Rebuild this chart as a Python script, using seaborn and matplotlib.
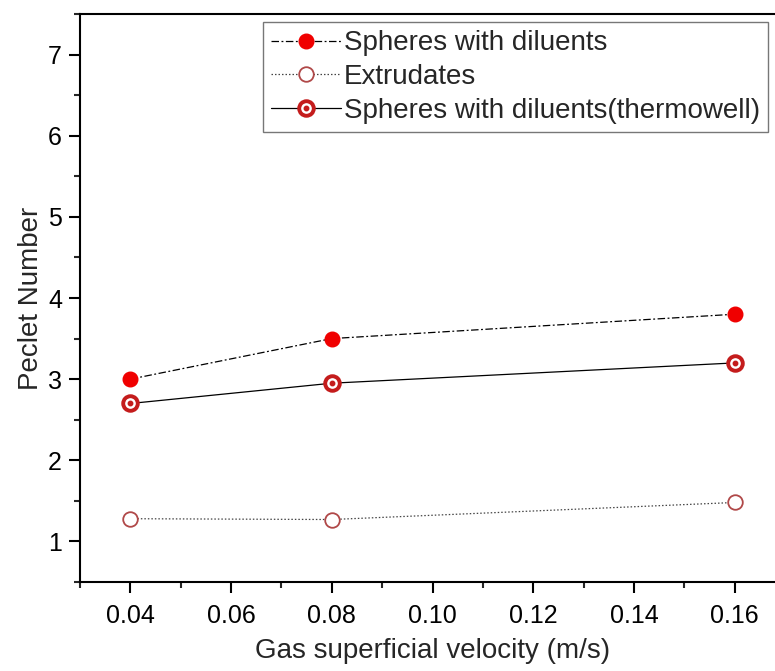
import matplotlib
matplotlib.use("Agg")
import matplotlib.pyplot as plt
import seaborn as sns
import pandas as pd
from matplotlib.ticker import MultipleLocator
from matplotlib.legend_handler import HandlerTuple
from matplotlib.lines import Line2D

velocity = [0.04, 0.08, 0.16]
spheres = [3.0, 3.5, 3.8]
extrudates = [1.28, 1.27, 1.48]
thermowell = [2.7, 2.95, 3.2]
labels = ["Spheres with diluents", "Extrudates", "Spheres with diluents(thermowell)"]
xtick_vals = [0.04, 0.06, 0.08, 0.10, 0.12, 0.14, 0.16]
xtick_labels = ["0.04", "0.06", "0.08", "0.10", "0.12", "0.14", "0.16"]
ytick_vals = [1, 2, 3, 4, 5, 6, 7]

sns.set_style("ticks")
plt.rcParams['font.family'] = ['Liberation Sans', 'DejaVu Sans']

fig = plt.figure(figsize=(7.75, 6.71), dpi=100)
ax = fig.add_axes([80/775, 89/671, 705/775, 568/671])

df_s = pd.DataFrame({"x": velocity, "y": spheres})
df_e = pd.DataFrame({"x": velocity, "y": extrudates})
df_t = pd.DataFrame({"x": velocity, "y": thermowell})

red = "#f00000"
dark = "#c41c1c"
MS = 10.5
DASHDOT = [6, 2, 1.5, 2]
DOT = [1.2, 1.6]

sns.lineplot(data=df_s, x="x", y="y", ax=ax, color="black", lw=0.9, zorder=2)
ax.lines[-1].set_dashes(DASHDOT)
ax.plot(velocity, spheres, ls="none", marker="o", ms=MS, mfc=red, mec=red, zorder=3)

sns.lineplot(data=df_e, x="x", y="y", ax=ax, color="#444444", lw=0.9, zorder=2)
ax.lines[-1].set_dashes(DOT)
ax.plot(velocity, extrudates, ls="none", marker="o", ms=MS, mfc="white", mec="#b04848", mew=1.3, zorder=3)

sns.lineplot(data=df_t, x="x", y="y", ax=ax, color="black", lw=0.9, zorder=2)
ax.plot(velocity, thermowell, ls="none", marker="o", ms=MS, mfc="white", mec=dark, mew=2.8, zorder=3)
ax.plot(velocity, thermowell, ls="none", marker="o", ms=3.2, mfc=dark, mec=dark, zorder=4)

ax.set_xlim(0.03, 0.17)
ax.set_ylim(0.5, 7.5)
ax.xaxis.set_minor_locator(MultipleLocator(0.01))
ax.yaxis.set_minor_locator(MultipleLocator(0.5))
ax.set_xticks(xtick_vals)
ax.set_xticklabels(xtick_labels)
ax.set_yticks(ytick_vals)
ax.tick_params(axis="both", which="major", direction="out", length=8, width=1.5,
               labelsize=18, colors="black")
ax.tick_params(axis="x", which="major", pad=8)
ax.tick_params(axis="y", which="major", pad=5)
ax.tick_params(axis="both", which="minor", direction="out", length=4.5, width=1.5)
for s in ax.spines.values():
    s.set_linewidth(1.5)
    s.set_color("black")

ax.set_xlabel("Gas superficial velocity (m/s)", fontsize=20, labelpad=7)
ax.set_ylabel("Peclet Number", fontsize=20, labelpad=3)

h1 = Line2D([], [], color="black", lw=0.9, dashes=DASHDOT, marker="o", ms=MS, mfc=red, mec=red)
h2 = Line2D([], [], color="#444444", lw=0.9, dashes=DOT, marker="o", ms=MS, mfc="white", mec="#b04848", mew=1.3)
h3a = Line2D([], [], color="black", lw=0.9, marker="o", ms=MS, mfc="white", mec=dark, mew=2.8)
h3b = Line2D([], [], ls="none", marker="o", ms=3.2, mfc=dark, mec=dark)
leg = fig.legend([h1, h2, (h3a, h3b)], labels, loc="upper left",
                 bbox_to_anchor=(263/775, 1 - 22/671), bbox_transform=fig.transFigure,
                 borderaxespad=0, fontsize=20, frameon=True, fancybox=False,
                 edgecolor="#555555", handlelength=2.5, handletextpad=0.1,
                 borderpad=0.3, labelspacing=0.28,
                 handler_map={tuple: HandlerTuple(ndivide=1, pad=0)})
leg.get_frame().set_linewidth(1.0)

fig.savefig("out.png", dpi=100)
